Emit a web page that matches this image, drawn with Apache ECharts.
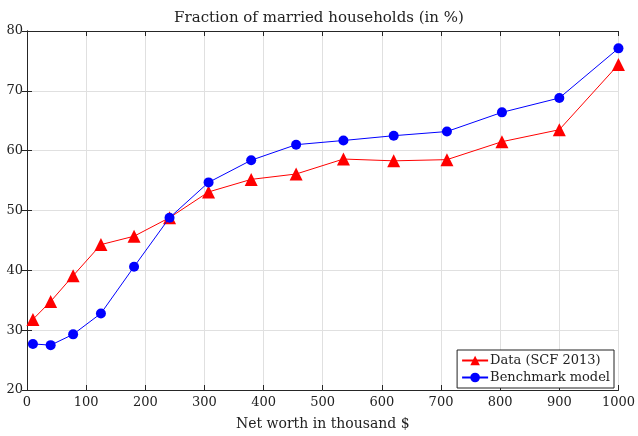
<!DOCTYPE html>
<html><head><meta charset="utf-8">
<script src="https://cdn.jsdelivr.net/npm/echarts@6/dist/echarts.min.js"></script>
<style>html,body{margin:0;padding:0;background:#fff}#c{width:638px;height:436px}</style>
</head><body><div id="c"></div>
<script>
const netWorth = [10, 40, 78, 125, 181, 241, 307, 379, 455, 535, 620, 710, 803, 900, 1000];
const dataSCF = [31.8, 34.8, 39.1, 44.3, 45.7, 48.8, 53.1, 55.2, 56.1, 58.6, 58.3, 58.5, 61.5, 63.5, 74.4];
const benchmark = [27.7, 27.5, 29.3, 32.8, 40.6, 48.8, 54.7, 58.4, 61.0, 61.7, 62.5, 63.2, 66.4, 68.8, 77.1];
const titleText = 'Fraction of married households (in %)';
const xName = 'Net worth in thousand $';
const seriesNames = ['Data (SCF 2013)', 'Benchmark model'];

const font = '"DejaVu Serif", "Liberation Serif", serif';
const axisCol = '#262626';
const chart = echarts.init(document.getElementById('c'));
const pair = (xs, ys) => xs.map((x, i) => [x, ys[i]]);
const hiddenAxis = {
  axisLine: {show: true, lineStyle: {color: axisCol, width: 1}},
  axisTick: {show: true, inside: true, length: 5, lineStyle: {color: axisCol}},
  axisLabel: {show: false}, splitLine: {show: false}
};
chart.setOption({
  animation: false,
  title: {text: titleText, left: 'center', top: 6,
    textStyle: {fontFamily: font, fontSize: 15, fontWeight: 'normal', color: '#222'}},
  grid: {left: 27, right: 16, top: 31, bottom: 40, containLabel: false},
  xAxis: [{
    type: 'value', min: 0, max: 1000, interval: 100,
    name: xName, nameLocation: 'middle', nameGap: 27,
    nameTextStyle: {fontFamily: font, fontSize: 14, color: '#222'},
    axisLine: {show: true, onZero: false, lineStyle: {color: axisCol, width: 1}},
    axisTick: {show: true, inside: true, length: 5, lineStyle: {color: axisCol}},
    axisLabel: {fontFamily: font, fontSize: 13, color: '#222', margin: 6, formatter: v => String(v)},
    splitLine: {show: true, lineStyle: {color: '#e0e0e0', width: 1}}
  }, Object.assign({type: 'value', position: 'top', min: 0, max: 1000, interval: 100}, hiddenAxis)],
  yAxis: [{
    type: 'value', min: 20, max: 80, interval: 10,
    axisLine: {show: true, onZero: false, lineStyle: {color: axisCol, width: 1}},
    axisTick: {show: true, inside: true, length: 5, lineStyle: {color: axisCol}},
    axisLabel: {fontFamily: font, fontSize: 13, color: '#222', margin: 4},
    splitLine: {show: true, lineStyle: {color: '#e0e0e0', width: 1}}
  }, Object.assign({type: 'value', position: 'right', min: 20, max: 80, interval: 10}, hiddenAxis)],
  legend: {
    data: seriesNames, orient: 'vertical', right: 24, bottom: 48,
    backgroundColor: '#fff', borderColor: '#222', borderWidth: 1, borderRadius: 0,
    padding: [4, 4, 4, 4], itemGap: 4, itemWidth: 26, itemHeight: 12,
    textStyle: {fontFamily: font, fontSize: 13, color: '#222', padding: [0, 0, 0, -3]}
  },
  series: [{
    name: seriesNames[0], type: 'line', data: pair(netWorth, dataSCF),
    symbol: 'triangle', symbolSize: 13, color: '#ff0000',
    lineStyle: {color: '#ff0000', width: 1}, itemStyle: {color: '#ff0000'}, z: 2
  }, {
    name: seriesNames[1], type: 'line', data: pair(netWorth, benchmark),
    symbol: 'circle', symbolSize: 10, color: '#0000ff',
    lineStyle: {color: '#0000ff', width: 1}, itemStyle: {color: '#0000ff'}, z: 3
  }]
});
</script></body></html>
